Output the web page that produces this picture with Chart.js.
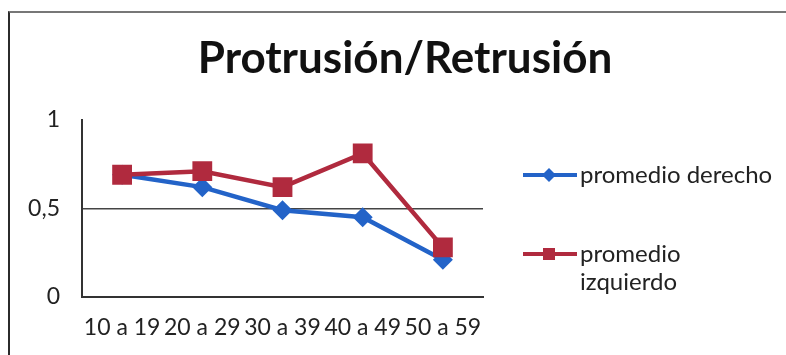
<!DOCTYPE html>
<html>
<head>
<meta charset="utf-8">
<script src="https://cdn.jsdelivr.net/npm/chart.js@4"></script>
<style>
  html, body { margin: 0; padding: 0; background: #fff; }
  body { width: 786px; height: 355px; position: relative; overflow: hidden; }
  .frame {
    position: absolute; left: 8px; top: 11px; width: 800px; height: 360px;
    border-left: 2px solid #2b2b2b; border-top: 2px solid #777;
  }
  #wrap { position: absolute; left: 0; top: 0; width: 786px; height: 355px; }
</style>
</head>
<body>
<div class="frame"></div>
<div id="wrap"><canvas id="c" width="786" height="355"></canvas></div>
<script>
const categories = ['10 a 19', '20 a 29', '30 a 39', '40 a 49', '50 a 59'];
const promedioDerecho = [0.69, 0.62, 0.49, 0.45, 0.21];
const promedioIzquierdo = [0.69, 0.71, 0.62, 0.81, 0.28];
const yTickLabels = ['0', '0,5', '1'];
const seriesNames = ['promedio derecho', ['promedio', 'izquierdo']];

const BLUE = '#2363c8';
const RED = '#b02a3e';
const FONT = 'Lato, "Open Sans", sans-serif';

// Legend drawn at the right of the plot, mirroring each dataset's line and marker
const sideLegend = {
  id: 'sideLegend',
  afterDraw(chart) {
    const ctx = chart.ctx;
    const rows = [175, 254];
    chart.data.datasets.forEach((ds, i) => {
      const y = rows[i];
      ctx.save();
      ctx.strokeStyle = ds.borderColor;
      ctx.lineWidth = 4;
      ctx.beginPath();
      ctx.moveTo(523, y);
      ctx.lineTo(577, y);
      ctx.stroke();
      ctx.fillStyle = ds.backgroundColor;
      if (ds.pointStyle === 'rectRot') {
        ctx.beginPath();
        ctx.moveTo(549, y - 7);
        ctx.lineTo(556, y);
        ctx.lineTo(549, y + 7);
        ctx.lineTo(542, y);
        ctx.closePath();
        ctx.fill();
      } else {
        ctx.fillRect(543, y - 6, 12, 12);
      }
      ctx.fillStyle = '#222';
      ctx.font = '24px ' + FONT;
      ctx.textBaseline = 'middle';
      ctx.textAlign = 'left';
      const lines = Array.isArray(seriesNames[i]) ? seriesNames[i] : [seriesNames[i]];
      lines.forEach((t, k) => ctx.fillText(t, 580, y + k * 28));
      ctx.restore();
    });
  }
};

new Chart(document.getElementById('c'), {
  type: 'line',
  data: {
    labels: categories,
    datasets: [
      {
        label: 'promedio derecho',
        data: promedioDerecho,
        borderColor: BLUE,
        backgroundColor: BLUE,
        borderWidth: 4.5,
        pointStyle: 'rectRot',
        pointRadius: 10,
        pointBorderWidth: 0,
        tension: 0,
        order: 1
      },
      {
        label: 'promedio izquierdo',
        data: promedioIzquierdo,
        borderColor: RED,
        backgroundColor: RED,
        borderWidth: 4.5,
        pointStyle: 'rect',
        pointRadius: 14,
        pointBorderWidth: 0,
        tension: 0,
        order: 0
      }
    ]
  },
  options: {
    responsive: false,
    animation: false,
    events: [],
    layout: { padding: { left: 24, right: 0, top: 0, bottom: 8 } },
    plugins: {
      legend: { display: false },
      tooltip: { enabled: false },
      title: {
        display: true,
        text: 'Protrusión/Retrusión',
        color: '#111',
        font: { family: FONT, size: 44, weight: 'bold', lineHeight: 1.2 },
        padding: { top: 32, bottom: 35 }
      }
    },
    scales: {
      x: {
        offset: true,
        grid: { display: false, drawTicks: false, offset: true },
        border: { display: true, color: '#333', width: 2 },
        ticks: {
          color: '#222',
          font: { family: FONT, size: 23 },
          padding: 17,
          maxRotation: 0,
          autoSkip: false
        },
        afterFit(s) { s.height = 50; }
      },
      y: {
        min: 0,
        max: 1,
        grid: {
          drawTicks: false,
          color: ctx => (ctx.tick && ctx.tick.value === 0.5 ? '#444' : 'rgba(0,0,0,0)'),
          lineWidth: 1.5
        },
        border: { display: true, color: '#333', width: 2 },
        ticks: {
          stepSize: 0.5,
          color: '#222',
          font: { family: FONT, size: 23 },
          padding: 22,
          callback: (v, i) => yTickLabels[i]
        },
        afterFit(s) { s.width = 58; }
      },
      // empty right-hand axis reserving the space where the legend sits
      legendSpace: {
        position: 'right',
        min: 0,
        max: 1,
        grid: { display: false, drawTicks: false },
        border: { display: false },
        ticks: { display: false },
        afterFit(s) { s.width = 303; }
      }
    }
  },
  plugins: [sideLegend]
});
</script>
</body>
</html>
